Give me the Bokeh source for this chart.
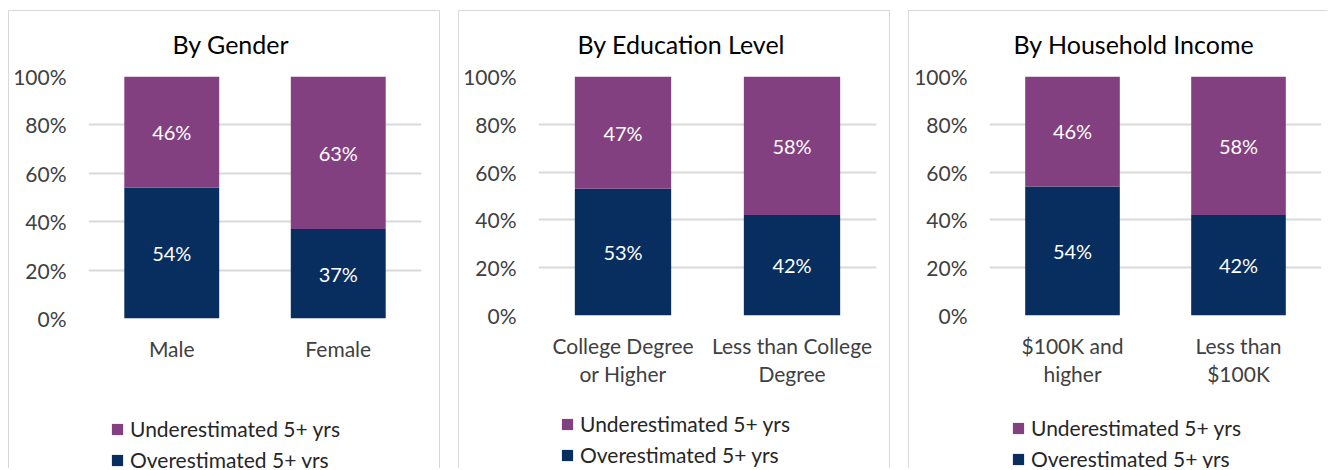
from bokeh.plotting import figure
from bokeh.layouts import row, column
from bokeh.models import (ColumnDataSource, FactorRange, Range1d, FixedTicker,
                          PrintfTickFormatter, Legend, LegendItem, LabelSet)
from bokeh.core.properties import value
from bokeh.embed import file_html
from bokeh.resources import INLINE

# ---- data ----
titles = ["By Gender", "By Education Level", "By Household Income"]
gender_cats = ["Male", "Female"]
gender_over = [54, 37]
gender_under = [46, 63]
edu_cats = ["College Degree\nor Higher", "Less than College\nDegree"]
edu_over = [53, 42]
edu_under = [47, 58]
income_cats = ["$100K and\nhigher", "Less than\n$100K"]
income_over = [54, 42]
income_under = [46, 58]
y_ticks = [0, 20, 40, 60, 80, 100]
series_labels = ["Overestimated 5+ yrs", "Underestimated 5+ yrs"]

# ---- styles ----
NAVY = "#072E5E"
PURPLE = "#834081"
GRID = "#D9D9D9"
TEXT = "#404040"
FONT = "Lato"
MAIN_H = 400
LEG_H = 60


def make_panel(title, title_offset, cats, over, under, left, fw, right, fh,
               legend_vy, right_border=True):
    src = ColumnDataSource(dict(
        cat=cats, over=over, under=under,
        over_mid=[o / 2 for o in over],
        under_mid=[o + u / 2 for o, u in zip(over, under)],
        over_txt=[f"{o}%" for o in over],
        under_txt=[f"{u}%" for u in under],
    ))
    p = figure(x_range=FactorRange(*cats), y_range=Range1d(0, 100),
               frame_width=fw, frame_height=fh,
               min_border_left=left, min_border_right=right,
               min_border_top=68, min_border_bottom=MAIN_H - 68 - fh,
               toolbar_location=None, output_backend="svg", title=title)
    p.vbar_stack(["over", "under"], x="cat", width=0.57, source=src,
                 fill_color=[NAVY, PURPLE], line_color=None)

    p.title.align = "left"
    p.title.offset = title_offset
    p.title.text_font = FONT
    p.title.text_font_size = "25px"
    p.title.text_font_style = "normal"
    p.title.text_color = "#000000"
    p.title.vertical_align = "bottom"
    p.title.standoff = 35

    p.background_fill_color = None
    p.border_fill_color = None
    p.outline_line_color = None

    p.yaxis.ticker = FixedTicker(ticks=y_ticks)
    p.yaxis.formatter = PrintfTickFormatter(format="%d%%")
    for ax in (p.xaxis, p.yaxis):
        ax.axis_line_color = None
        ax.major_tick_line_color = None
        ax.minor_tick_line_color = None
        ax.major_tick_out = 0
        ax.major_tick_in = 0
        ax.major_label_text_font = FONT
        ax.major_label_text_font_size = "21px"
        ax.major_label_text_color = TEXT
    p.yaxis.major_label_standoff = 22
    p.xaxis.major_label_standoff = 17
    p.xaxis.major_label_text_line_height = 1.15
    p.xgrid.grid_line_color = None
    p.ygrid.grid_line_color = GRID
    p.ygrid.grid_line_width = 2

    for ycol, tcol in (("over_mid", "over_txt"), ("under_mid", "under_txt")):
        p.add_layout(LabelSet(x="cat", y=ycol, text=tcol, source=src,
                              text_align="center", text_baseline="middle",
                              text_color="white", text_font=value(FONT),
                              text_font_size="20px"))

    # legend strip below the chart (its frame is aligned with the chart frame)
    total_w = left + fw + right
    q = figure(width=total_w, height=LEG_H, x_axis_type=None, y_axis_type=None,
               min_border=0, toolbar_location=None, output_backend="svg")
    q.background_fill_color = None
    q.border_fill_color = None
    q.outline_line_color = None
    q.grid.grid_line_color = None
    stub = ColumnDataSource(dict(x=[0], top=[0]))
    r_under = q.vbar(x="x", top="top", source=stub, width=0.5,
                     fill_color=PURPLE, line_color=None)
    r_over = q.vbar(x="x", top="top", source=stub, width=0.5,
                    fill_color=NAVY, line_color=None)
    leg = Legend(items=[LegendItem(label=series_labels[1], renderers=[r_under]),
                        LegendItem(label=series_labels[0], renderers=[r_over])],
                 location=(22, legend_vy), orientation="vertical",
                 padding=0, margin=0, spacing=6,
                 glyph_width=14, glyph_height=14, label_standoff=6,
                 border_line_color=None, background_fill_alpha=0,
                 label_text_font=FONT, label_text_font_size="21px",
                 label_text_color="#262626")
    q.add_layout(leg, "center")

    shadows = ["inset 0 2px 0 #ffffff", "inset 0 3px 0 %s" % GRID,
               "inset 1px 0 0 %s" % GRID]
    if right_border:
        shadows.append("inset -1px 0 0 %s" % GRID)
    return column(p, q, spacing=0,
                  styles={"box-shadow": ", ".join(shadows),
                          "background-color": "white"})


c1 = make_panel(titles[0], 84, gender_cats, gender_over, gender_under,
                80, 333, 19, 242, -4)
c2 = make_panel(titles[1], 39, edu_cats, edu_over, edu_under,
                80, 338, 14, 239, 1)
c3 = make_panel(titles[2], 24, income_cats, income_over, income_under,
                81, 332, 6, 239, -3, right_border=False)

layout = row(c1, c2, c3, spacing=18, margin=(8, 0, 0, 8))
open("out.html", "w").write(file_html(layout, INLINE))
